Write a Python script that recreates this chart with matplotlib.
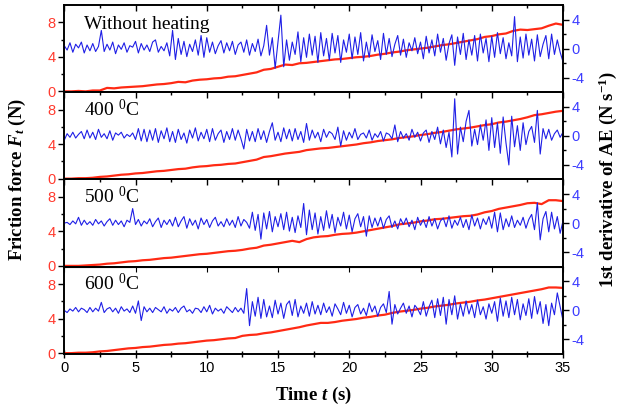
import matplotlib.pyplot as plt
import numpy as np

plt.rcParams['font.family'] = 'Liberation Sans'
plt.rcParams['axes.unicode_minus'] = False
plt.rcParams['mathtext.fontset'] = 'custom'
plt.rcParams['mathtext.rm'] = 'Liberation Serif'
plt.rcParams['mathtext.it'] = 'Liberation Serif:italic:bold'
plt.rcParams['mathtext.bf'] = 'Liberation Serif:bold'

# panel titles
titles = ['Without heating', '400 $^{0}$C', '500 $^{0}$C', '600 $^{0}$C']

# time grids (s)
t_force = np.linspace(0, 35, 71)   # every 0.5 s
t_ae = np.linspace(0, 35, 176)     # every 0.2 s

# friction force F_t (N)
force_none = [0.0, 0.0, 0.05, 0.0, 0.1, 0.1, 0.4, 0.35, 0.45, 0.5,
              0.55, 0.6, 0.7, 0.8, 0.85, 0.95, 1.1, 1.05, 1.25, 1.35,
              1.4, 1.5, 1.55, 1.7, 1.75, 1.9, 2.05, 2.2, 2.5, 2.6,
              2.85, 3.1, 3.05, 3.25, 3.3, 3.4, 3.5, 3.6, 3.7, 3.75,
              3.85, 3.95, 4.0, 4.1, 4.25, 4.35, 4.5, 4.6, 4.75, 4.85,
              4.95, 5.05, 5.2, 5.35, 5.45, 5.6, 5.75, 5.9, 6.05, 6.3,
              6.4, 6.6, 6.7, 7.0, 7.15, 7.1, 7.2, 7.3, 7.6, 7.85,
              7.7]
force_400 = [0.0, 0.0, 0.05, 0.05, 0.1, 0.2, 0.25, 0.35, 0.45, 0.5,
             0.6, 0.65, 0.75, 0.85, 0.9, 1.0, 1.1, 1.15, 1.3, 1.4,
             1.45, 1.55, 1.6, 1.7, 1.75, 1.9, 2.05, 2.2, 2.5, 2.6,
             2.75, 2.9, 3.0, 3.1, 3.3, 3.4, 3.5, 3.55, 3.65, 3.75,
             3.85, 3.95, 4.1, 4.2, 4.35, 4.45, 4.55, 4.7, 4.8, 4.9,
             5.05, 5.15, 5.3, 5.4, 5.55, 5.7, 5.8, 5.9, 6.05, 6.2,
             6.3, 6.5, 6.6, 6.75, 6.9, 7.1, 7.35, 7.45, 7.6, 7.75,
             7.85]
force_500 = [0.0, 0.0, 0.0, 0.05, 0.1, 0.15, 0.25, 0.3, 0.4, 0.5,
             0.55, 0.65, 0.7, 0.8, 0.9, 0.95, 1.05, 1.15, 1.25, 1.35,
             1.4, 1.5, 1.6, 1.7, 1.75, 1.85, 2.0, 2.1, 2.35, 2.45,
             2.6, 2.75, 2.9, 2.75, 3.1, 3.3, 3.4, 3.45, 3.6, 3.7,
             3.75, 3.85, 4.0, 4.15, 4.3, 4.45, 4.6, 4.8, 4.9, 5.0,
             5.15, 5.25, 5.4, 5.45, 5.55, 5.65, 5.75, 5.8, 5.95, 6.2,
             6.35, 6.6, 6.75, 6.9, 7.05, 7.25, 7.3, 7.15, 7.6, 7.6,
             7.5]
force_600 = [0.0, 0.0, 0.05, 0.05, 0.1, 0.2, 0.25, 0.35, 0.45, 0.55,
             0.6, 0.7, 0.75, 0.85, 0.95, 1.0, 1.1, 1.15, 1.25, 1.35,
             1.45, 1.5, 1.6, 1.7, 1.75, 2.0, 2.1, 2.15, 2.3, 2.4,
             2.55, 2.7, 2.85, 3.0, 3.2, 3.35, 3.5, 3.5, 3.6, 3.75,
             3.85, 3.95, 4.1, 4.2, 4.35, 4.45, 4.65, 4.8, 4.9, 5.0,
             5.15, 5.25, 5.4, 5.5, 5.6, 5.75, 5.85, 5.95, 6.1, 6.2,
             6.35, 6.5, 6.65, 6.8, 6.95, 7.1, 7.25, 7.4, 7.6, 7.6,
             7.55]

# 1st derivative of AE (N/s)
ae_none = [0.4, -0.2, 0.8, -0.5, 0.6, 0.1, 0.9, -0.6, 0.5, -0.3,
           0.7, -0.4, 0.3, 2.5, -0.4, 0.6, -0.2, 0.9, -0.7, 0.5,
           -0.1, 0.8, -0.5, 0.4, 0.2, 1.0, -0.6, 0.7, -0.2, 0.5,
           -0.4, 0.9, 1.2, -0.5, 0.3, -0.3, 0.8, -1.0, 2.5, -1.5,
           1.4, -0.8, 1.0, -1.1, 0.6, -0.4, 1.2, -0.9, 1.8, -1.2,
           1.5, -0.5, 0.9, -0.7, 0.4, 1.1, -0.6, 0.8, -0.3, 1.0,
           -0.8, 0.5, 0.9, -0.5, 1.2, -0.9, 0.7, -0.4, 1.3, -1.0,
           0.4, 3.2, -0.9, 1.5, -2.7, 1.0, 4.6, -2.5, 1.2, -1.6,
           0.9, -0.8, 2.3, -1.8, 1.5, -1.2, 2.0, -0.9, 1.7, -1.9,
           2.2, -1.0, 1.4, -1.6, 2.1, -0.6, 1.8, -1.9, 1.2, -0.5,
           2.0, -1.4, 1.6, -0.8, 2.2, -1.7, 0.9, -1.2, 1.9, -0.4,
           1.1, -1.5, 2.1, -0.8, 1.4, -1.1, 0.6, 1.8, -0.9, 1.3,
           -1.2, 0.8, -0.3, 1.5, -0.7, 0.9, -1.4, 1.7, -0.6, 1.2,
           -1.0, 2.0, -0.5, 1.4, -1.6, 0.7, 1.9, -2.3, 1.6, -0.8,
           2.1, -1.5, 1.2, -0.9, 1.8, -1.7, 2.0, -0.6, 1.4, -1.8,
           1.7, -1.2, 2.2, -0.7, 1.5, -1.4, 0.8, -1.0, 4.4, -1.8,
           1.6, -1.3, 2.0, -0.9, 1.3, -1.7, 1.9, -1.1, 0.6, 1.8,
           -1.4, 2.0, -0.8, 1.2, -0.5, -1.8]
ae_400 = [-0.6, 0.3, -0.2, 0.5, -0.3, 0.2, 0.6, -0.4, 0.8, -0.3,
          0.5, -0.5, 0.9, -0.2, 0.3, -0.4, 0.7, -0.6, 0.4, 0.1,
          0.5, -0.3, 0.2, -0.1, 0.4, -0.5, 1.0, -0.7, 0.9, -0.8,
          0.8, -0.6, 1.0, -0.9, 0.7, -0.4, 1.1, -0.8, 0.6, -0.9,
          0.9, -0.5, 0.4, -1.0, 0.8, -0.3, 1.1, -0.7, 0.5, -0.4,
          0.9, -0.8, 1.0, -0.6, 0.3, 0.8, -0.9, 0.6, -0.5, 1.0,
          -0.6, 0.8, -0.4, -1.8, 0.9, -0.7, 0.6, -0.8, 1.0, -0.5,
          0.7, -0.9, 0.6, 1.8, -0.6, 0.5, -0.8, 1.1, -0.4, 0.9,
          -0.7, 1.0, -0.5, 0.6, -0.9, 1.7, -0.6, 0.8, -0.3, 0.5,
          -0.8, 0.9, -0.2, 0.6, 0.3, -0.5, 1.2, -1.4, 0.7, -0.6,
          0.5, -0.3, 1.0, -0.5, 0.2, 0.4, -0.3, 0.8, -0.6, 0.3,
          -0.2, 0.6, -0.7, 0.4, 0.2, -0.4, 1.5, -0.8, 0.6, -0.3,
          0.3, -0.6, 0.9, -0.2, 0.5, -0.7, 0.4, 0.8, -0.9, 0.6,
          -0.5, 1.2, -1.1, 0.8, -1.6, 0.5, -2.9, 5.1, -2.5, 1.2,
          -0.8, 2.0, 3.5, -1.4, 0.9, -1.2, 1.5, -0.6, 2.2, -2.0,
          2.5, -1.6, 1.8, -2.4, 2.6, -1.0, -4.0, 2.7, -1.5, 1.4,
          -2.0, 1.8, -1.2, 0.6, 1.3, -0.9, 3.5, -2.5, 1.0, -0.4,
          0.9, -0.6, 0.3, 0.8, -0.2, 0.5]
ae_500 = [0.0, 0.1, -0.2, 0.3, -0.1, 0.8, -0.3, 0.4, -0.2, 0.2,
          -0.3, 0.5, -0.1, 0.3, -0.4, 0.2, 0.6, -0.3, 0.4, -0.2,
          0.3, -0.5, 0.4, 0.1, 2.0, -0.2, 0.5, -0.4, 0.3, -0.1,
          0.6, -0.5, 0.2, 0.7, -0.6, 0.4, -0.2, 0.5, -0.4, 0.8,
          -0.5, 0.3, 0.9, -0.7, 0.6, -0.3, 0.4, -0.8, 0.7, -0.2,
          0.5, -0.6, 0.3, 0.8, -0.4, 0.2, -0.5, 0.6, -0.3, 0.4,
          -0.6, 0.9, -0.4, 0.5, 0.1, -0.7, 1.5, -1.0, 1.2, -2.2,
          1.4, -0.8, 1.6, -1.2, 0.9, -0.5, 1.3, -0.9, 1.5, -1.1,
          0.8, -1.3, 1.0, -0.6, 2.7, -1.6, 1.8, -0.9, 1.4, -1.5,
          0.9, -1.0, 1.7, -0.7, 1.2, -1.3, 0.8, -0.4, 1.5, -0.8,
          1.1, -1.2, 0.6, 1.3, -0.5, 0.9, -1.8, 1.0, -0.6, 0.7,
          -0.4, 0.8, -0.7, 0.5, 1.0, -0.6, 0.3, -0.8, 0.6, -0.2,
          0.7, -0.5, 0.4, -0.9, 0.8, -0.3, 0.5, -0.6, 0.9, -0.4,
          0.6, -0.8, 0.3, 0.7, -0.5, 1.0, -0.7, 0.4, -0.3, 0.8,
          -0.6, 0.5, -0.9, 1.1, -0.4, 0.7, -0.8, 0.6, -0.2, 0.9,
          -0.7, 1.5, -1.2, 1.4, -0.9, 0.6, -0.5, 1.0, -0.6, 0.4,
          -0.3, 0.8, -0.7, 0.5, 1.2, -0.9, 2.8, -2.3, 0.6, 1.6,
          -1.2, 1.5, -0.8, 0.9, -1.4, 0.3]
ae_600 = [0.0, -0.3, 0.2, -0.1, 0.4, -0.2, 0.3, 0.1, -0.3, 0.4,
          -0.2, 0.3, -0.1, 1.1, -0.3, 0.2, 0.4, -0.2, 0.3, -0.4,
          0.5, -0.1, 0.2, -0.3, 0.6, -0.4, 1.3, -1.4, 0.5, -0.2,
          0.3, -0.3, 0.4, 0.1, -0.2, 0.5, -0.4, 0.2, -0.1, 0.4,
          -0.3, 0.3, 0.6, -0.2, 0.1, -0.4, 0.3, 0.2, -0.3, 0.5,
          -0.2, 0.7, -0.5, 0.3, -0.1, 0.2, -0.4, 0.5, 0.1, -0.3,
          0.4, -0.2, 0.3, -0.4, 3.0, -2.1, 1.2, -0.8, 1.8, -1.1,
          1.5, -0.9, 0.6, -1.0, 1.4, -0.5, 1.0, -1.1, 0.8, 1.3,
          -0.7, 1.5, -0.9, 0.6, -0.4, 1.0, -0.8, 1.2, -0.5, 0.7,
          -0.6, 1.0, -0.3, 0.5, -0.8, 0.9, 0.2, -0.6, 1.1, -0.4,
          0.7, -0.9, 0.4, 0.8, -0.5, 0.3, -0.7, 1.0, -0.2, 0.6,
          -0.8, 0.4, 0.9, -0.3, 2.6, -1.9, 0.8, -0.5, 0.3, 1.0,
          -0.4, 0.6, -0.9, 0.7, 0.2, -0.6, 1.2, -0.8, 0.5, 1.4,
          -1.0, 1.6, -0.7, 1.8, -1.9, 1.5, -0.6, 2.0, -1.2, 0.9,
          -0.8, 1.3, -0.5, 0.8, -1.0, 1.4, -0.6, 0.5, -1.2, 0.9,
          -0.4, 1.2, -1.5, 1.7, -0.8, 1.3, -1.0, 1.8, -0.6, 1.5,
          -1.3, 0.9, -0.7, 1.6, -1.1, 1.9, -0.5, 1.2, -1.8, 0.8,
          -2.1, 1.0, -0.6, 2.4, 0.5, -1.4]

forces = [force_none, force_400, force_500, force_600]
aes = [ae_none, ae_400, ae_500, ae_600]

red = '#ff2a14'
blue = '#1f1fe6'
red_txt = '#ff3b2f'
blue_txt = '#3c3cff'

fig, axes = plt.subplots(4, 1, sharex=True, figsize=(6.18, 4.15), dpi=100)
fig.subplots_adjust(left=0.104, right=0.911, top=0.988, bottom=0.147, hspace=0)

for i, ax in enumerate(axes):
    ax2 = ax.twinx()
    ax.plot(t_force, forces[i], color=red, lw=1.6)
    ax2.plot(t_ae, aes[i], color=blue, lw=0.8)

    ax.set_xlim(0, 35)
    ax.set_ylim(-0.1, 10)
    ax2.set_ylim(-6, 6)

    ax.set_yticks([0, 4, 8])
    ax.set_yticks([2, 6], minor=True)
    ax2.set_yticks([-4, 0, 4])
    ax2.set_yticks([-2, 2], minor=True)
    ax.set_xticks(np.arange(0, 36, 5))
    ax.set_xticks(np.arange(2.5, 35, 5), minor=True)

    ax.tick_params(axis='y', which='both', direction='out', colors='black',
                   labelcolor=red_txt, labelsize=10.5, pad=2)
    ax2.tick_params(axis='y', which='both', direction='out', colors='black',
                    labelcolor=blue_txt, labelsize=10.5, pad=2)
    ax.tick_params(which='major', length=4, width=1)
    ax.tick_params(which='minor', length=2.5, width=1)
    ax2.tick_params(which='major', length=4, width=1)
    ax2.tick_params(which='minor', length=2.5, width=1)
    if i < 3:
        ax.tick_params(axis='x', which='both', top=True, bottom=False,
                       direction='in', labelbottom=False)
    else:
        ax.tick_params(axis='x', which='both', bottom=True, direction='inout',
                       labelsize=10.5, pad=2)
    for sp in ax.spines.values():
        sp.set_linewidth(1.2)
    for sp in ax2.spines.values():
        sp.set_linewidth(1.2)

    ax.text(0.04, 0.73, titles[i], transform=ax.transAxes, fontsize=14,
            family='Liberation Serif', va='baseline', ha='left')

# bottom panel: top ticks in, bottom ticks crossing
axes[3].tick_params(axis='x', which='major', bottom=True, top=False, length=6)
axes[3].tick_params(axis='x', which='minor', bottom=True, top=False, length=4)
axes[3].secondary_xaxis('top').tick_params(which='both', direction='in', labeltop=False)

fig.text(0.028, 0.567, 'Friction force $F_t$ (N)', rotation=90, ha='center',
         va='center', fontsize=13.5, fontweight='bold', family='Liberation Serif')
fig.text(0.984, 0.567, '1st derivative of AE (N s$^{\\mathbf{-1}}$)', rotation=90,
         ha='center', va='center', fontsize=13.5, fontweight='bold',
         family='Liberation Serif')
fig.text(0.507, 0.046, 'Time $t$ (s)', ha='center', va='center', fontsize=13.5,
         fontweight='bold', family='Liberation Serif')

plt.savefig('out.png', dpi=100)
